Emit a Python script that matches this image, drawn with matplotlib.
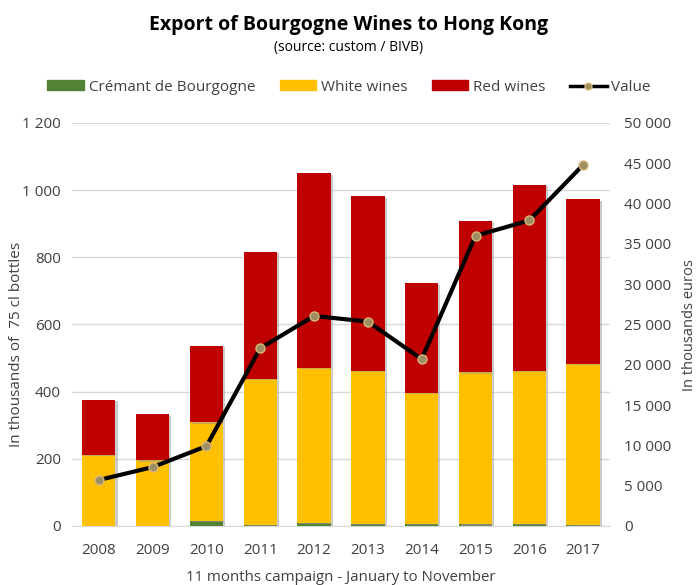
import matplotlib
matplotlib.use("Agg")
import matplotlib.pyplot as plt
from matplotlib.ticker import FuncFormatter, MultipleLocator
from matplotlib.lines import Line2D
from matplotlib.patches import Patch
import matplotlib.patheffects as pe

years = ["2008", "2009", "2010", "2011", "2012", "2013", "2014", "2015", "2016", "2017"]
cremant = [0, 0, 15, 3, 10, 6, 6, 5, 6, 3]
white = [211, 196, 294, 436, 460, 456, 391, 453, 456, 480]
red = [164, 137, 228, 378, 580, 519, 325, 451, 554, 489]
value = [5700, 7300, 9900, 22050, 26050, 25350, 20700, 36000, 37900, 44800]

plt.rcParams['font.family'] = ['Open Sans', 'DejaVu Sans']

fig = plt.figure(figsize=(6.98, 5.85), dpi=100)
ax = fig.add_axes([0.103, 0.1009, 0.771, 0.689])
ax2 = ax.twinx()

x = list(range(len(years)))
bw = 0.62
shadow = [pe.SimplePatchShadow(offset=(1.5, -1), shadow_rgbFace='#999999', alpha=0.5), pe.Normal()]
b1 = ax.bar(x, cremant, bw, color='#548235', zorder=3)
b2 = ax.bar(x, white, bw, bottom=cremant, color='#FFC000', zorder=3)
bottom2 = [c + w for c, w in zip(cremant, white)]
b3 = ax.bar(x, red, bw, bottom=bottom2, color='#C00000', zorder=3)
for bars in (b1, b2, b3):
    for p in bars:
        p.set_path_effects(shadow)

ax2.plot(x, value, color='black', lw=3, marker='o', markersize=6.5,
         markerfacecolor='#9E8F62', markeredgecolor='#D9B77A', markeredgewidth=1, zorder=5)

ax.set_xlim(-0.5, len(years) - 0.5)
ax.set_ylim(0, 1200)
ax2.set_ylim(0, 50000)
ax.yaxis.set_major_locator(MultipleLocator(200))
ax2.yaxis.set_major_locator(MultipleLocator(5000))
fmt = FuncFormatter(lambda v, p: f"{int(v):,}".replace(",", " "))
ax.yaxis.set_major_formatter(fmt)
ax2.yaxis.set_major_formatter(fmt)
ax.set_xticks(x)
ax.set_xticklabels(years)

ax.grid(axis='y', color='#D9D9D9', lw=1, zorder=0)
ax.set_axisbelow(True)
for a in (ax, ax2):
    for s in a.spines.values():
        s.set_visible(False)
ax.spines['bottom'].set_visible(True)
ax.spines['bottom'].set_color('#D9D9D9')
ax.tick_params(axis='both', length=0, labelsize=11, colors='#404040', pad=8)
ax2.tick_params(axis='both', length=0, labelsize=11, colors='#404040', pad=10)
ax.tick_params(axis='x', pad=12)

fig.text(0.024, 0.412, "In thousands of  75 cl bottles", rotation=90, ha='center', va='center',
         fontsize=11, color='#404040')
fig.text(0.988, 0.444, "In thousands euros", rotation=90, ha='center', va='center',
         fontsize=10.5, color='#404040')
fig.text(0.488, 0.013, "11 months campaign - January to November", ha='center', va='center',
         fontsize=10.8, color='#404040')

fig.text(0.5, 0.958, "Export of Bourgogne Wines to Hong Kong", ha='center', va='center',
         fontsize=14, fontweight='bold', color='#000000')
fig.text(0.5, 0.918, "(source: custom / BIVB)", ha='center', va='center', fontsize=10, color='#000000')

handles = [Patch(color='#548235'), Patch(color='#FFC000'), Patch(color='#C00000'),
           Line2D([], [], color='black', lw=2.5, marker='o', markersize=5,
                  markerfacecolor='#9E8F62', markeredgecolor='#D9B77A')]
labels = ["Crémant de Bourgogne", "White wines", "Red wines", "Value"]
fig.legend(handles, labels, loc='center', bbox_to_anchor=(0.5, 0.851), ncol=4, frameon=False,
           fontsize=11, handlelength=2.4, handleheight=0.6, handletextpad=0.3, columnspacing=1.6,
           labelcolor='#404040')

fig.savefig("out.png", dpi=100)
